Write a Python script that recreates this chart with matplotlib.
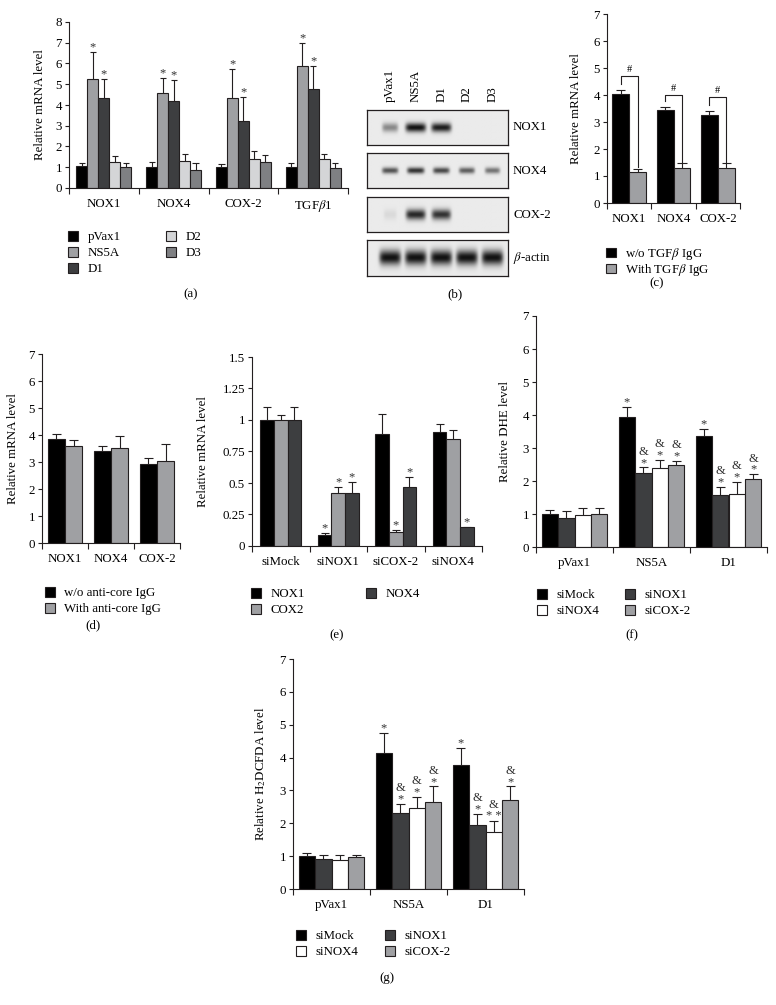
import numpy as np
import matplotlib
matplotlib.use("Agg")
import matplotlib.pyplot as plt
from matplotlib.patches import Patch

plt.rcParams["font.family"] = ["Liberation Serif", "DejaVu Serif"]
plt.rcParams["mathtext.fontset"] = "stix"
plt.rcParams["font.size"] = 9

W, H = 776, 1005
EDGE = "#231f20"
FS = 9.3

# ---------------- data ----------------
# (a) relative mRNA level
a_genes = ["NOX1", "NOX4", "COX-2", r"TGF$\beta$1"]
a_series = ["pVax1", "NS5A", "D1", "D2", "D3"]
a_pvax1 = [1.06, 1.0, 1.0, 1.0]
a_ns5a = [5.27, 4.58, 4.34, 5.86]
a_d1 = [4.34, 4.19, 3.21, 4.79]
a_d2 = [1.24, 1.29, 1.40, 1.40]
a_d3 = [1.0, 0.88, 1.25, 0.95]
a_pvax1_sd = [0.16, 0.24, 0.16, 0.20]
a_ns5a_sd = [1.28, 0.74, 1.38, 1.13]
a_d1_sd = [0.93, 1.01, 1.18, 1.07]
a_d2_sd = [0.30, 0.35, 0.37, 0.25]
a_d3_sd = [0.20, 0.32, 0.35, 0.25]

# (b) western blot band intensities
b_lanes = ["pVax1", "NS5A", "D1", "D2", "D3"]
b_proteins = ["NOX1", "NOX4", "COX-2", r"$\beta$-actin"]
b_nox1 = [0.45, 1.0, 0.95, 0.0, 0.0]
b_nox4 = [0.70, 0.85, 0.75, 0.65, 0.55]
b_cox2 = [0.08, 0.90, 0.85, 0.0, 0.0]
b_actin = [1.0, 1.0, 1.0, 1.0, 1.0]

# (c) TGF-beta IgG
c_genes = ["NOX1", "NOX4", "COX-2"]
c_series = [r"w/o TGF$\beta$ IgG", r"With TGF$\beta$ IgG"]
c_without = [4.02, 3.44, 3.26]
c_without_sd = [0.18, 0.12, 0.14]
c_with = [1.13, 1.31, 1.31]
c_with_sd = [0.14, 0.16, 0.16]

# (d) anti-core IgG
d_genes = ["NOX1", "NOX4", "COX-2"]
d_series = ["w/o anti-core IgG", "With anti-core IgG"]
d_without = [3.86, 3.39, 2.91]
d_without_sd = [0.17, 0.20, 0.22]
d_with = [3.60, 3.51, 3.03]
d_with_sd = [0.22, 0.44, 0.62]

# (e) siRNA knockdown
e_groups = ["siMock", "siNOX1", "siCOX-2", "siNOX4"]
e_series = ["NOX1", "COX2", "NOX4"]
e_nox1 = [1.0, 0.09, 0.885, 0.906]
e_nox1_sd = [0.10, 0.012, 0.16, 0.065]
e_cox2 = [1.0, 0.417, 0.114, 0.848]
e_cox2_sd = [0.04, 0.055, 0.013, 0.076]
e_nox4 = [1.0, 0.417, 0.47, 0.148]
e_nox4_sd = [0.10, 0.093, 0.08, 0.006]

# (f) DHE level
fg_groups = ["pVax1", "NS5A", "D1"]
fg_series = ["siMock", "siNOX1", "siNOX4", "siCOX-2"]
f_simock = [1.01, 3.93, 3.37]
f_simock_sd = [0.12, 0.32, 0.22]
f_sinox1 = [0.89, 2.23, 1.57]
f_sinox1_sd = [0.19, 0.18, 0.25]
f_sinox4 = [0.96, 2.38, 1.60]
f_sinox4_sd = [0.22, 0.25, 0.37]
f_sicox2 = [1.01, 2.50, 2.07]
f_sicox2_sd = [0.18, 0.10, 0.13]

# (g) H2DCFDA level
g_simock = [0.99, 4.15, 3.78]
g_simock_sd = [0.12, 0.59, 0.50]
g_sinox1 = [0.92, 2.31, 1.94]
g_sinox1_sd = [0.12, 0.28, 0.35]
g_sinox4 = [0.88, 2.46, 1.75]
g_sinox4_sd = [0.17, 0.35, 0.32]
g_sicox2 = [0.96, 2.66, 2.71]
g_sicox2_sd = [0.08, 0.46, 0.41]

# significance marks: (group, series, text)
a_marks = [(g, s, "*") for g in range(4) for s in (1, 2)]
e_marks = [(1, 0, "*"), (1, 1, "*"), (1, 2, "*"), (2, 1, "*"), (2, 2, "*"), (3, 2, "*")]
f_marks = [(1, 0, "*"), (2, 0, "*")] + [(g, s, "&\n*") for g in (1, 2) for s in (1, 2, 3)]
g_marks = [(1, 0, "*"), (2, 0, "*"), (1, 1, "&\n*"), (1, 2, "&\n*"), (1, 3, "&\n*"),
           (2, 1, "&\n*"), (2, 2, "&\n* *"), (2, 3, "&\n*")]

fig = plt.figure(figsize=(W / 100, H / 100), dpi=100)


def add_ax(x0, ytop, x1, ybot):
    return fig.add_axes([x0 / W, 1 - ybot / H, (x1 - x0) / W, (ybot - ytop) / H])


def bar_panel(box, groups, vals, sds, colors, width, ymax, yticks, ylabel, label_x,
              marks=()):
    ax = add_ax(*box)
    n = len(vals)
    x = np.arange(len(groups))
    tops = []
    for j in range(n):
        xs = x + (j - (n - 1) / 2) * width
        v = np.array(vals[j])
        t = v + np.array(sds[j])
        ax.bar(xs, v, width, color=colors[j], edgecolor=EDGE, linewidth=0.8, zorder=2)
        ax.vlines(xs, v, t, color=EDGE, linewidth=0.8, zorder=1)
        ax.hlines(t, xs - width * 0.28, xs + width * 0.28, color=EDGE, linewidth=0.8, zorder=1)
        tops.append((xs, t))
    for g, s, txt in marks:
        xs, t = tops[s]
        ax.annotate(txt, (xs[g], t[g]), xytext=(0, -1), textcoords="offset points",
                    ha="center", va="bottom", fontsize=9, linespacing=0.9,
                    color="#333333")
    ax.set_xlim(-0.5, len(groups) - 0.5)
    ax.set_ylim(0, ymax)
    for sp in ("top", "right"):
        ax.spines[sp].set_visible(False)
    for sp in ("left", "bottom"):
        ax.spines[sp].set_linewidth(0.8)
        ax.spines[sp].set_color(EDGE)
    ax.set_xticks(np.arange(len(groups) + 1) - 0.5)
    ax.set_xticklabels([])
    ax.set_xticks(x, minor=True)
    ax.set_xticklabels(groups, minor=True)
    ax.tick_params(axis="x", which="major", direction="out", length=4, width=0.8, color=EDGE)
    ax.tick_params(axis="x", which="minor", length=0, pad=7, labelsize=FS)
    ax.set_yticks(yticks[0])
    ax.set_yticklabels(yticks[1])
    ax.tick_params(axis="y", direction="out", length=3, width=0.8, color=EDGE, pad=2, labelsize=FS)
    ax.set_ylabel(ylabel, fontsize=FS)
    ax.yaxis.set_label_coords((label_x - box[0]) / (box[2] - box[0]), 0.5)
    return ax, tops


def legend_col(labels, colors, x, y, pitch=16.5, text_h=1.0):
    fs_px = FS * 100 / 72
    handles = [Patch(facecolor=c, edgecolor=EDGE, linewidth=0.8) for c in colors]
    fig.legend(handles, labels, loc="upper left", bbox_to_anchor=(x / W, 1 - y / H),
               frameon=False, borderpad=0, borderaxespad=0, handlelength=0.8,
               handleheight=0.8, handletextpad=0.7,
               labelspacing=max(pitch / fs_px - text_h, 0.0), fontsize=FS)


def panel_label(txt, x, y):
    fig.text(x / W, 1 - y / H, txt, ha="center", va="center", fontsize=FS)


# ---------------- (a) ----------------
a_colors = ["#000000", "#9fa0a3", "#3d3e40", "#d4d5d7", "#7f8083"]
bar_panel((69, 22, 348, 188), a_genes,
          [a_pvax1, a_ns5a, a_d1, a_d2, a_d3],
          [a_pvax1_sd, a_ns5a_sd, a_d1_sd, a_d2_sd, a_d3_sd],
          a_colors, 0.157, 8, (range(9), [str(i) for i in range(9)]),
          "Relative mRNA level", 46, a_marks)
legend_col(a_series[:3], a_colors[:3], 68, 231)
legend_col(a_series[3:], a_colors[3:], 166, 231)
panel_label("(a)", 191, 294)

# ---------------- (b) ----------------
b_bands = [b_nox1, b_nox4, b_cox2, b_actin]
b_boxes = [(110, 145), (153, 188), (197, 232), (240, 276)]
b_thick = [0.13, 0.09, 0.15, 0.2]
b_halfw = [0.4, 0.36, 0.4, 0.42]
xg = np.linspace(-0.9, 4.6, 400)
yg = np.linspace(0, 1, 80)
XX, YY = np.meshgrid(xg, yg)
for k, (prot, bands) in enumerate(zip(b_proteins, b_bands)):
    top, bot = b_boxes[k]
    ax = add_ax(367, top, 508, bot)
    img = np.full(XX.shape, 0.08)
    for i, inten in enumerate(bands):
        hw = b_halfw[k] * (0.6 + 0.4 * inten)
        img += inten * 0.85 * np.exp(-((XX - i) / hw) ** 6) * np.exp(-((YY - 0.5) / b_thick[k]) ** 2)
    ax.imshow(img, extent=[-0.9, 4.6, 0, 1], origin="lower", cmap="gray_r",
              vmin=0, vmax=1, aspect="auto", interpolation="bilinear")
    ax.set_xticks([])
    ax.set_yticks([])
    for sp in ax.spines.values():
        sp.set_linewidth(0.9)
        sp.set_color(EDGE)
    fig.text(513 / W, 1 - (top + bot) / 2 / H, prot, ha="left", va="center", fontsize=FS)
    if k == 0:
        for i, lane in enumerate(b_lanes):
            ax.text(i, 1.0 + 8 / 35, lane, rotation=90, ha="center", va="bottom",
                    transform=ax.get_xaxis_transform(), fontsize=FS)
panel_label("(b)", 455, 294)

# ---------------- (c) ----------------
c_colors = ["#000000", "#9fa0a3"]
ax_c, c_tops = bar_panel((607, 14, 740, 203), c_genes, [c_without, c_with],
                         [c_without_sd, c_with_sd], c_colors, 0.38, 7,
                         (range(8), [str(i) for i in range(8)]), "Relative mRNA level", 582)
c_bracket_top = [4.72, 4.0, 3.93]
for g in range(3):
    xl, xr = c_tops[0][0][g], c_tops[1][0][g]
    yl, yr = c_tops[0][1][g] + 0.22, c_tops[1][1][g] + 0.05
    yt = c_bracket_top[g]
    ax_c.plot([xl, xl, xr, xr], [yl, yt, yt, yr], color=EDGE, linewidth=0.8)
    ax_c.text((xl + xr) / 2, yt + 0.06, "#", ha="center", va="bottom", fontsize=7.5)
legend_col(c_series, c_colors, 606, 246, pitch=16, text_h=1.3)
panel_label("(c)", 657, 283)

# ---------------- (d) ----------------
bar_panel((42, 354, 180, 543), d_genes, [d_without, d_with], [d_without_sd, d_with_sd],
          c_colors, 0.37, 7, (range(8), [str(i) for i in range(8)]),
          "Relative mRNA level", 19)
legend_col(d_series, c_colors, 45, 587)
panel_label("(d)", 93, 625)

# ---------------- (e) ----------------
e_colors = ["#000000", "#9fa0a3", "#3d3e40"]
bar_panel((252, 357, 482, 546), e_groups, [e_nox1, e_cox2, e_nox4],
          [e_nox1_sd, e_cox2_sd, e_nox4_sd], e_colors, 0.235, 1.5,
          (np.arange(0, 1.51, 0.25), ["0", "0.25", "0.5", "0.75", "1", "1.25", "1.5"]),
          "Relative mRNA level", 209, e_marks)
legend_col(e_series[:2], e_colors[:2], 251, 588)
legend_col(e_series[2:], e_colors[2:], 366, 588)
panel_label("(e)", 337, 635)

# ---------------- (f) ----------------
fg_colors = ["#000000", "#3d3e40", "#ffffff", "#9fa0a3"]
bar_panel((536, 316, 767, 547), fg_groups, [f_simock, f_sinox1, f_sinox4, f_sicox2],
          [f_simock_sd, f_sinox1_sd, f_sinox4_sd, f_sicox2_sd], fg_colors, 0.214, 7,
          (range(8), [str(i) for i in range(8)]), "Relative DHE level", 511, f_marks)
legend_col([fg_series[0], fg_series[2]], [fg_colors[0], fg_colors[2]], 537, 589)
legend_col([fg_series[1], fg_series[3]], [fg_colors[1], fg_colors[3]], 625, 589)
panel_label("(f)", 632, 635)

# ---------------- (g) ----------------
bar_panel((293, 659, 524, 889), fg_groups, [g_simock, g_sinox1, g_sinox4, g_sicox2],
          [g_simock_sd, g_sinox1_sd, g_sinox4_sd, g_sicox2_sd], fg_colors, 0.214, 7,
          (range(8), [str(i) for i in range(8)]), r"Relative H$_2$DCFDA level", 268, g_marks)
legend_col([fg_series[0], fg_series[2]], [fg_colors[0], fg_colors[2]], 296, 930)
legend_col([fg_series[1], fg_series[3]], [fg_colors[1], fg_colors[3]], 385, 930)
panel_label("(g)", 387, 978)

fig.savefig("out.png", dpi=100)
